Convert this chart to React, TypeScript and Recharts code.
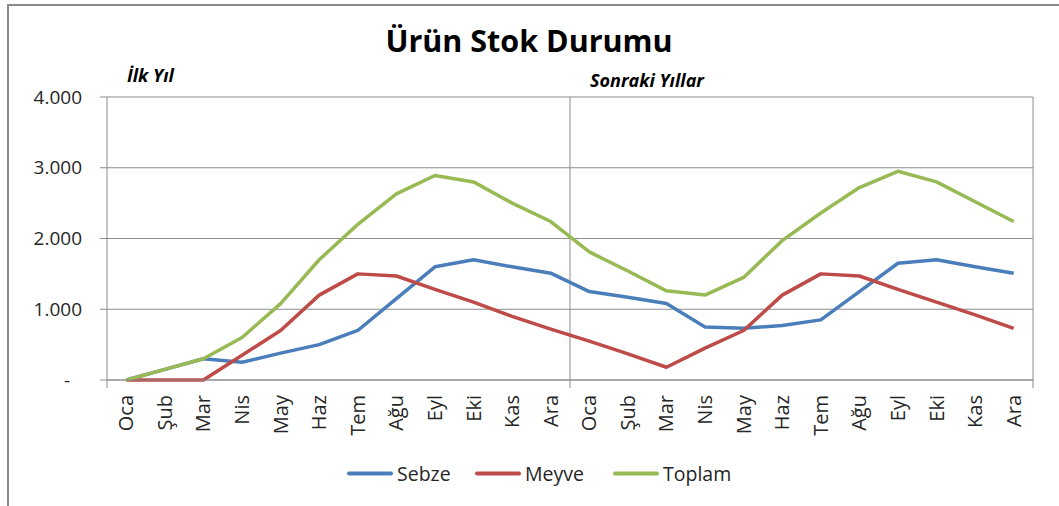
import { CartesianGrid, Line, LineChart, XAxis, YAxis } from "recharts";

const months = [
  "Oca", "Şub", "Mar", "Nis", "May", "Haz", "Tem", "Ağu", "Eyl", "Eki", "Kas", "Ara",
  "Oca", "Şub", "Mar", "Nis", "May", "Haz", "Tem", "Ağu", "Eyl", "Eki", "Kas", "Ara",
];
const sebze = [0, 150, 300, 250, 380, 500, 700, 1150, 1600, 1700, 1600, 1510, 1250, 1170, 1080, 750, 730, 770, 850, 1250, 1650, 1700, 1600, 1510];
const meyve = [0, 0, 0, 350, 700, 1200, 1500, 1470, 1280, 1100, 900, 720, 550, 370, 180, 450, 700, 1200, 1500, 1470, 1280, 1100, 920, 730];
const toplam = [0, 150, 300, 600, 1080, 1700, 2200, 2630, 2890, 2800, 2500, 2240, 1810, 1540, 1260, 1200, 1450, 1970, 2360, 2720, 2950, 2800, 2520, 2240];
const yTicks = [0, 1000, 2000, 3000, 4000];

const series = [
  { key: "sebze", name: "Sebze", color: "#4A7EBB" },
  { key: "meyve", name: "Meyve", color: "#BE4B48" },
  { key: "toplam", name: "Toplam", color: "#98B954" },
];

const data = months.map((m, i) => ({ i, m, sebze: sebze[i], meyve: meyve[i], toplam: toplam[i] }));
const xTicks = months.map((_, i) => i);

const GRID = "#8c8c8c";
const FONT = "'Open Sans', sans-serif";

function XTick(props: any) {
  const { x, y, payload, index, width } = props;
  const half = width / months.length / 2;
  let stub: number | null = null;
  if (index === 0) stub = x - half;
  if (index === 11 || index === 23) stub = x + half;
  return (
    <g>
      {stub !== null && <line x1={stub} x2={stub} y1={y} y2={y + 8} stroke={GRID} />}
      <text
        x={x}
        y={y + 15}
        transform={`rotate(-90, ${x}, ${y + 15})`}
        textAnchor="end"
        dy="0.35em"
        fontSize={20}
        fill="#262626"
      >
        {months[payload.value]}
      </text>
    </g>
  );
}

function YTick(props: any) {
  const { x, y, payload } = props;
  const v = payload.value;
  const label = v === 0 ? "-" : `${v / 1000}.000`;
  return (
    <text x={v === 0 ? x - 12 : x} y={y} dy="0.35em" textAnchor="end" fontSize={19} fill="#262626">
      {label}
    </text>
  );
}

export default function App() {
  return (
    <div style={{ position: "fixed", left: 0, top: 0, width: 1059, height: 506, background: "#fff", overflow: "hidden", fontFamily: FONT }}>
      <div style={{ position: "absolute", left: 7, top: 4, width: 1200, height: 700, border: "2px solid #8a8a8a", boxSizing: "border-box" }} />
      <div style={{ position: "absolute", left: 0, top: 0 }}>
        <LineChart width={1059} height={506} data={data} margin={{ top: 97, right: 26, left: 0, bottom: 0 }}>
          <CartesianGrid
            stroke={GRID}
            verticalCoordinatesGenerator={({ offset }: any) => [offset.left + offset.width / 2, offset.left + offset.width]}
          />
          <XAxis
            dataKey="i"
            type="number"
            domain={[-0.5, 23.5]}
            ticks={xTicks}
            interval={0}
            height={126}
            tickSize={0}
            tickMargin={0}
            tickLine={false}
            axisLine={{ stroke: GRID }}
            tick={<XTick />}
          />
          <YAxis
            domain={[0, 4000]}
            ticks={yTicks}
            width={107}
            tickSize={7}
            tickMargin={18}
            axisLine={{ stroke: GRID }}
            tickLine={{ stroke: GRID }}
            tick={<YTick />}
          />
          {series.map((s) => (
            <Line
              key={s.key}
              type="linear"
              dataKey={s.key}
              name={s.name}
              stroke={s.color}
              strokeWidth={3.5}
              strokeLinejoin="round"
              dot={false}
              activeDot={false}
              isAnimationActive={false}
            />
          ))}
        </LineChart>
      </div>
      <svg width={1059} height={506} style={{ position: "absolute", left: 0, top: 0, pointerEvents: "none" }}>
        <text x={529} y={52} textAnchor="middle" fontSize={30.5} fontWeight={700} fill="#000">
          Ürün Stok Durumu
        </text>
        <text x={127} y={82} fontSize={18} fontWeight={700} fontStyle="italic" fill="#000">
          İlk Yıl
        </text>
        <text x={590} y={87} fontSize={18} fontWeight={700} fontStyle="italic" fill="#000">
          Sonraki Yıllar
        </text>
        {series.map((s, i) => {
          const lx = [349, 477, 615][i];
          return (
            <g key={s.key}>
              <line x1={lx} x2={lx + 42} y1={473.5} y2={473.5} stroke={s.color} strokeWidth={4} strokeLinecap="round" />
              <text x={lx + 48} y={481} fontSize={19.5} fill="#262626">
                {s.name}
              </text>
            </g>
          );
        })}
      </svg>
    </div>
  );
}
